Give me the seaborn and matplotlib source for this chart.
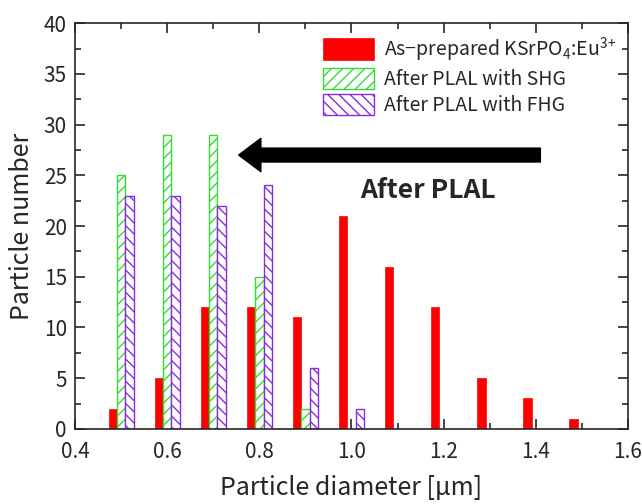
import matplotlib
matplotlib.use("Agg")
import matplotlib.pyplot as plt
import seaborn as sns
import pandas as pd
import numpy as np
from matplotlib.ticker import MultipleLocator

sns.set_style("ticks")
plt.rcParams['font.family'] = ['Noto Sans CJK JP', 'DejaVu Sans']
plt.rcParams['hatch.linewidth'] = 1.0
plt.rcParams['mathtext.fontset'] = 'custom'
plt.rcParams['mathtext.rm'] = 'Noto Sans CJK JP'

diam_red = [0.5, 0.6, 0.7, 0.8, 0.9, 1.0, 1.1, 1.2, 1.3, 1.4, 1.5]
count_red = [2, 5, 12, 12, 11, 21, 16, 12, 5, 3, 1]
diam_shg = [0.5, 0.6, 0.7, 0.8, 0.9]
count_shg = [25, 29, 29, 15, 2]
diam_fhg = [0.5, 0.6, 0.7, 0.8, 0.9, 1.0]
count_fhg = [23, 23, 22, 24, 6, 2]

labels = [r'As−prepared KSrPO$_4$:Eu$^{3\!+}$', 'After PLAL with SHG', 'After PLAL with FHG']

fig = plt.figure(figsize=(6.42, 5.04), dpi=100)
ax = fig.add_axes([0.117, 0.149, 0.861, 0.805])

series = [
    (diam_red, count_red, -0.018, dict(color='#ff0000', edgecolor='#ff0000', linewidth=0.5), labels[0]),
    (diam_shg, count_shg, 0.0, dict(facecolor='white', edgecolor='#33dd33', hatch='///', linewidth=1.0), labels[1]),
    (diam_fhg, count_fhg, 0.018, dict(facecolor='white', edgecolor='#8a2be2', hatch='\\\\\\', linewidth=1.0), labels[2]),
]
for d, c, off, style, lab in series:
    df = pd.DataFrame({'x': np.round(np.array(d) + off, 4), 'y': c})
    sns.barplot(data=df, x='x', y='y', native_scale=True, width=0.18, ax=ax,
                saturation=1, label=lab, **style)

ax.set_xlim(0.4, 1.6)
ax.set_ylim(0, 40)
ax.xaxis.set_major_locator(MultipleLocator(0.2))
ax.xaxis.set_minor_locator(MultipleLocator(0.1))
ax.yaxis.set_major_locator(MultipleLocator(5))
ax.yaxis.set_minor_locator(MultipleLocator(2.5))
ax.set_xticklabels([f'{v:.1f}' for v in ax.get_xticks()])
ax.tick_params(which='both', direction='in', top=True, right=True, labelsize=15, width=1.2)
ax.tick_params(which='major', length=7)
ax.tick_params(which='minor', length=4)
ax.tick_params(axis='x', pad=9)
ax.tick_params(axis='y', pad=6)
for s in ax.spines.values():
    s.set_linewidth(1.2)
ax.set_xlabel('Particle diameter [μm]', fontsize=18, labelpad=8)
ax.set_ylabel('Particle number', fontsize=18, labelpad=6)

ax.annotate('', xy=(0.755, 27), xytext=(1.41, 27),
            arrowprops=dict(facecolor='black', edgecolor='black', width=10, headwidth=24, headlength=16))
ax.text(1.165, 23.5, 'After PLAL', fontsize=19, fontweight='bold', ha='center', va='center')

leg = ax.legend(loc='upper right', frameon=False, fontsize=14, handlelength=2.6, handleheight=1.3,
                labelspacing=0.2, borderaxespad=0.2, handletextpad=0.5)

fig.savefig('out.png', dpi=100)
